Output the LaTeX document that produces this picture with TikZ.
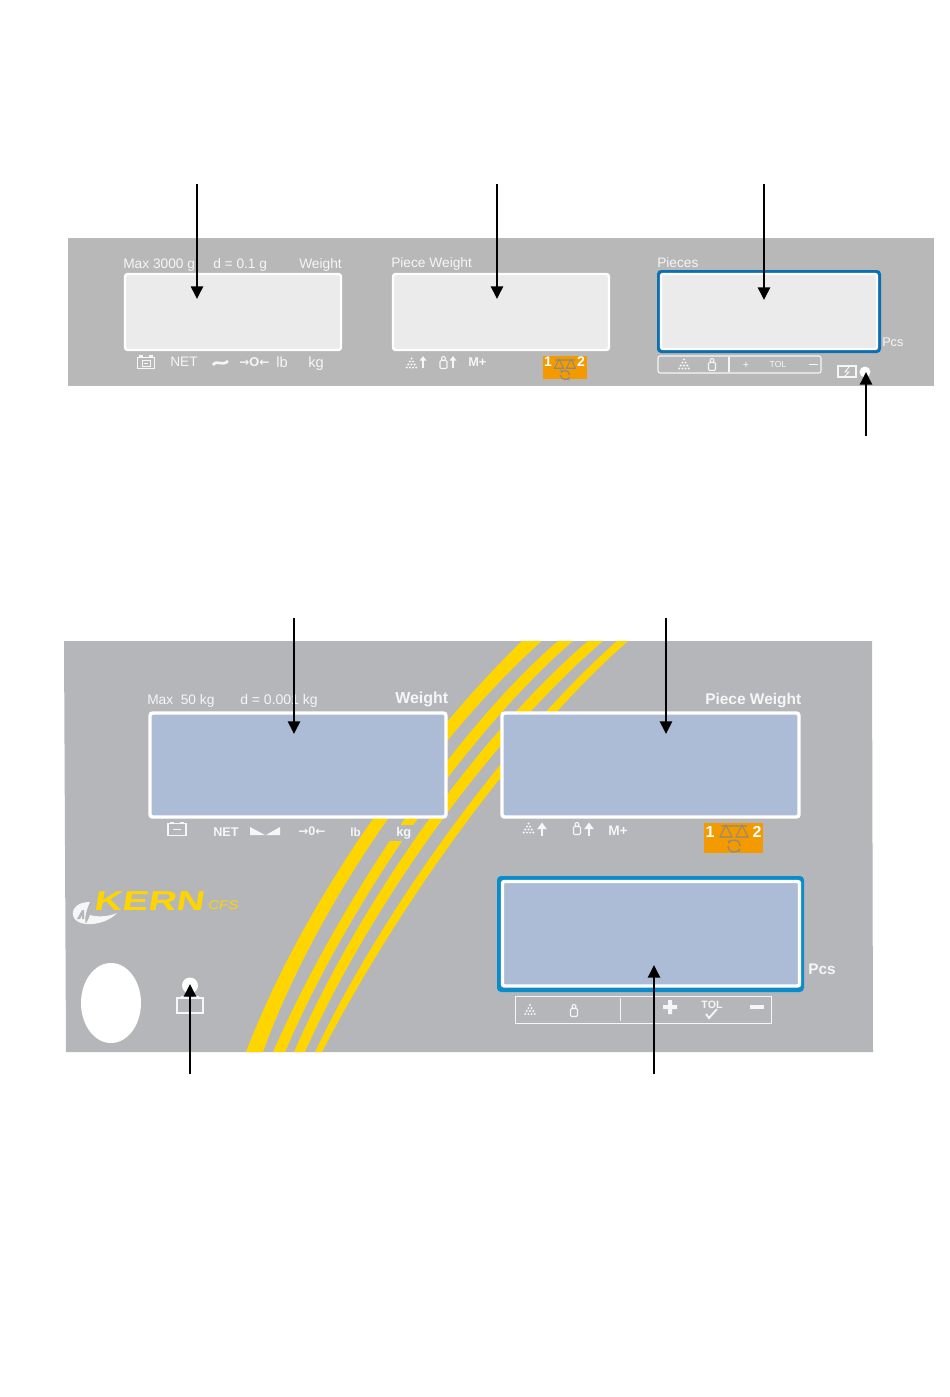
\documentclass[tikz,border=0pt]{standalone}
\usepackage{fontspec}
\setmainfont{Liberation Sans}
\newfontfamily\arrowf{DejaVu Sans}
\newfontfamily\logob[FakeSlant=0.12]{Liberation Sans Bold}
\usetikzlibrary{arrows.meta}
\definecolor{paneltop}{HTML}{B8B8B8}
\definecolor{panelbot}{HTML}{B5B6BA}
\definecolor{lcdtop}{HTML}{EBEBEB}
\definecolor{lcdbot}{HTML}{ADBCD6}
\definecolor{rimtop}{HTML}{0B6FB0}
\definecolor{rimbot}{HTML}{0A8CCB}
\definecolor{stripeyel}{HTML}{FFD500}
\definecolor{tile}{HTML}{F39A00}
\definecolor{tileicon}{HTML}{8F8A80}
\definecolor{lbl}{HTML}{F6F6F6}
\newcommand{\arwr}{{\arrowf\bfseries\fontsize{9}{10}\selectfont →}}
\newcommand{\arwl}{{\arrowf\bfseries\fontsize{9}{10}\selectfont ←}}
\tikzset{
  arr/.style={draw=black,line width=1.9pt,-{Triangle[length=9.5pt,width=9pt]}},
  txt/.style={text=lbl,inner sep=0pt,anchor=base west},
  txtc/.style={text=lbl,inner sep=0pt,anchor=base},
  small/.style={font=\fontsize{10.3}{12}\selectfont},
  whiteline/.style={draw=lbl,line width=.8pt,fill=none},
  pyrdots/.pic={\foreach \r in {0,1,2,3}{\foreach \c in {0,...,\r}{
      \fill[lbl] (\c*3.2-\r*1.6,\r*3) circle[radius=1.1];}}},
  weighticon/.pic={\draw[whiteline,rounded corners=.8pt] (-3.5,-2.5) rectangle (3.5,5.5);\draw[whiteline] (0,-4.5) circle[radius=2];},
  uparrow/.pic={\draw[lbl,line width=1.5pt,-{Triangle[length=5pt,width=7pt]}] (0,6.5) -- (0,-6.5);},
  uparrowthin/.pic={\draw[lbl,line width=1pt,-{Triangle[length=3.5pt,width=5pt]}] (0,6) -- (0,-6);},
  batt/.pic={\draw[whiteline] (-9,-6) rectangle (9,6);\fill[lbl] (-7,-8) rectangle (-3,-6);\fill[lbl] (3,-8) rectangle (7,-6);},
  scales/.pic={\draw[tileicon,line width=.8pt] (-13,-8) -- (13,-8)
      (-14,3) -- (-8,-9) -- (-2,3) -- cycle (2,3) -- (8,-9) -- (14,3) -- cycle;
      \draw[tileicon,line width=.9pt,-{Stealth[length=3pt]}] (-6,12) arc[start angle=180,end angle=20,radius=6];
      \draw[tileicon,line width=.9pt,-{Stealth[length=3pt]}] (6,12) arc[start angle=0,end angle=-160,radius=6];}
}
\begin{document}
\begin{tikzpicture}[x=.75pt,y=-.75pt]
\useasboundingbox (0,0) rectangle (950,1397);
\fill[white] (0,0) rectangle (950,1397);
% ---------- top panel
\fill[paneltop] (68,238) rectangle (934,386);
\foreach \a/\b/\c/\d in {124/273/342/351,392/273/610/351}{
  \filldraw[fill=lcdtop,draw=white,line width=1.8pt,rounded corners=2pt] (\a+1,\b+1) rectangle (\c-1,\d-1);}
\fill[rimtop,rounded corners=3pt] (657,270) rectangle (881,353);
\filldraw[fill=lcdtop,draw=white,line width=1.8pt,rounded corners=1.5pt] (661,274) rectangle (877,349);
\node[txt,small] (tmax) at (123,268) {Max 3000 g};
\node[txt,small] (td) at (213,268) {d = 0.1 g};
\node[txt,small] (tw) at (299,268) {Weight};
\node[txt,small] (tpw) at (391,267.5) {Piece Weight};
\node[txt,small] (tpi) at (657,267) {Pieces};
\node[txt,font=\fontsize{9.5}{12}\selectfont] (tpcs) at (882,346) {Pcs};
\node[txt,small] (tnet) at (170,366) {NET};
\node[txt,font=\bfseries\fontsize{9.6}{12}\selectfont] (tzero) at (239,366) {\arwr O\arwl};
\node[txt,font=\fontsize{11}{13}\selectfont] (tlb) at (276,367) {lb};
\node[txt,font=\fontsize{11}{13}\selectfont] (tkg) at (308,367) {kg};
\node[txt,font=\bfseries\fontsize{9.6}{12}\selectfont] (tmp) at (468,366.5) {M+};
\pic at (146,363) [scale=.95] {batt};
\draw[lbl,line width=.7pt] (142,360) rectangle (150,366);
\fill[lbl] (144,362.6) rectangle (148,363.6);
\draw[lbl,line width=2pt] (213,365) .. controls (217,359) and (222,367) .. (228,361);
\pic at (411.5,358.5) {pyrdots};
\pic at (423,362) {uparrowthin};
\pic at (443.5,363) {weighticon};
\pic at (453,362) {uparrowthin};
% orange tile top
\fill[tile] (543,356) rectangle (587,379);
\pic at (565,366) [scale=.75] {scales};
\node[txtc,text=white,font=\bfseries\fontsize{10.5}{12}\selectfont] (tone) at (548,366) {1};
\node[txtc,text=white,font=\bfseries\fontsize{10.5}{12}\selectfont] (ttwo) at (581,366) {2};
% tol bar top
\draw[whiteline,rounded corners=1.5pt] (658,356) rectangle (821,373);
\draw[whiteline] (729,357) -- (729,372);
\pic at (684,359.5) {pyrdots};
\pic at (712,365) {weighticon};
\node[txtc,font=\fontsize{8}{10}\selectfont] (tplus) at (746,368) {+};
\node[txtc,font=\fontsize{6.5}{8}\selectfont] (ttol) at (778,367) {TOL};
\fill[lbl] (809,363.6) rectangle (818,365.2);
% battery and led top
\draw[whiteline] (838,366) rectangle (856,377);
\draw[lbl,line width=.7pt] (849,367) -- (845,372) -- (849,372) -- (845,376);
\fill[white] (865,372) circle[radius=5.5];
% ---------- bottom panel
\fill[panelbot] (64,641) -- (872,641) -- (873,1052) -- (66,1052) -- cycle;
\fill[stripeyel] (246,1052) .. controls (308,890) and (430,730) .. (522,641) -- (541.7,641) .. controls (445,728) and (322,890) .. (263,1052) -- cycle;
\fill[stripeyel] (273,1052) .. controls (340,900) and (455,730) .. (558,641) -- (573,641) .. controls (470,730) and (350,900) .. (285,1052) -- cycle;
\fill[stripeyel] (294,1052) .. controls (358,905) and (478,735) .. (588,641) -- (603,641) .. controls (488,740) and (368,910) .. (305,1052) -- cycle;
\fill[stripeyel] (315,1052) .. controls (380,915) and (505,740) .. (617,641) -- (628,641) .. controls (510,745) and (390,920) .. (322,1052) -- cycle;
\fill[panelbot] (388,825) rectangle (414,841);
\foreach \a/\c in {148/448,500/801}{
  \filldraw[fill=lcdbot,draw=white,line width=2.6pt,rounded corners=2pt] (\a+2,713) rectangle (\c-2,817);}
\fill[rimbot,rounded corners=3pt] (497,876) rectangle (804,992);
\filldraw[fill=lcdbot,draw=white,line width=2.6pt,rounded corners=1.5pt] (502.5,881.5) rectangle (799.5,986);
\node[txt,small] (bmax) at (147,704.5) {Max\ \ 50 kg};
\node[txt,font=\fontsize{10.5}{12}\selectfont] (bd) at (240,704.5) {d = 0.001 kg};
\node[txt,font=\bfseries\fontsize{12}{14}\selectfont] (bw) at (395,703.5) {Weight};
\node[txt,font=\bfseries\fontsize{11.6}{14}\selectfont] (bpw) at (705,704) {Piece Weight};
\node[txt,font=\bfseries\fontsize{11.5}{14}\selectfont] (bpcs) at (808,974) {Pcs};
\node[txt,font=\bfseries\fontsize{9.5}{12}\selectfont] (bnet) at (213,836.5) {NET};
\node[txt,font=\bfseries\fontsize{9.4}{12}\selectfont] (bzero) at (298,835.5) {\arwr 0\arwl};
\node[txt,font=\bfseries\fontsize{8.8}{12}\selectfont] (blb) at (350,836) {lb};
\node[txt,font=\bfseries\fontsize{9.6}{12}\selectfont] (bkg) at (396,836) {kg};
\node[txt,font=\bfseries\fontsize{10.3}{12}\selectfont] (bmp) at (608,835) {M+};
\pic at (177,829.5) {batt};
\draw[lbl,line width=1.1pt] (173,829.5) -- (181,829.5);
\fill[lbl] (250,827) -- (250,835) -- (265,835) -- cycle;
\fill[lbl] (266,835) -- (280,835) -- (280,827) -- cycle;
\pic at (528.5,823.5) {pyrdots};
\pic at (542,829) {uparrow};
\pic at (577,829) {weighticon};
\pic at (589,829) {uparrow};
% orange tile bottom
\fill[tile] (704,823) rectangle (763,853);
\pic at (734,834) {scales};
\node[txtc,text=white,font=\bfseries\fontsize{12}{14}\selectfont] (bone) at (710,837) {1};
\node[txtc,text=white,font=\bfseries\fontsize{12}{14}\selectfont] (btwo) at (757,837) {2};
% tol bar bottom
\draw[draw=lbl,line width=.7pt] (515,996) rectangle (771,1023);
\draw[draw=lbl,line width=.7pt] (620,998) -- (620,1021);
\pic at (530,1005) {pyrdots};
\pic at (574,1011) {weighticon};
\fill[lbl] (668,1000) rectangle (672,1014) (663,1005) rectangle (677,1009);
\node[txtc,font=\bfseries\fontsize{8}{10}\selectfont] (btol) at (712,1008) {TOL};
\draw[lbl,line width=1.4pt] (706,1014) -- (709,1018) -- (717,1009);
\fill[lbl] (750,1005) rectangle (764,1009);
% logo
\node[txt,text=stripeyel,font=\logob\fontsize{20.5}{24}\selectfont,xscale=1.42,transform shape] (logo) at (93,910) {KERN};
\node[txt,text=stripeyel,font=\itshape\fontsize{9.4}{12}\selectfont,xscale=1.2,transform shape] (cfs) at (208,909) {CFS};
\fill[lbl] (90,902) .. controls (78,902) and (72,908) .. (73,915) .. controls (74,920) and (78,923) .. (86,924) .. controls (84,920) and (86,910) .. cycle;
\fill[panelbot] (77,919) -- (82,910) -- (84,910) -- (84,919) -- (82,919) -- (82,915) -- (80,919) -- cycle;
\fill[lbl] (86,924) .. controls (96,925) and (110,921) .. (117,913) .. controls (108,917) and (96,917) .. (90,915) .. controls (89,919) and (87,921) .. cycle;
% ellipse, led, battery
\fill[white] (111,1003) ellipse[x radius=30,y radius=40];
\fill[white] (190,985.5) ellipse[x radius=8,y radius=8];
\draw[whiteline] (177,998) rectangle (203,1013);
\fill[lbl] (181,996) rectangle (186,998) (194,996) rectangle (199,998);
% ---------- connectors
\coordinate (a1s) at (197,184); \coordinate (a1e) at (197,299);
\coordinate (a2s) at (497,184); \coordinate (a2e) at (497,299);
\coordinate (a3s) at (764,184); \coordinate (a3e) at (764,300);
\coordinate (a4s) at (866,436); \coordinate (a4e) at (866,372);
\coordinate (b1s) at (294,618); \coordinate (b1e) at (294,734);
\coordinate (b2s) at (666,618); \coordinate (b2e) at (666,734);
\coordinate (b3s) at (190,1074); \coordinate (b3e) at (190,984);
\coordinate (b4s) at (654,1074); \coordinate (b4e) at (654,965);
\foreach \p in {a1,a2,a3,a4,b1,b2,b3,b4}{\draw[arr] (\p s) -- (\p e);}
\end{tikzpicture}
\end{document}
